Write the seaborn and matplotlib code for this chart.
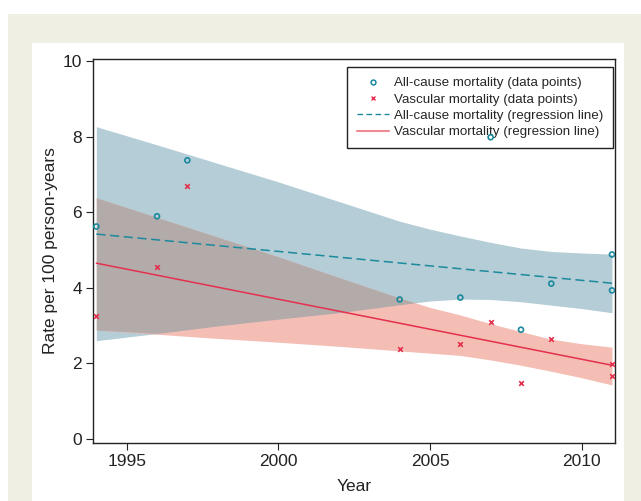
import matplotlib
matplotlib.use("Agg")
import matplotlib.pyplot as plt
from matplotlib.patches import Rectangle
from matplotlib.lines import Line2D
import numpy as np
import pandas as pd
import seaborn as sns

# ---- data ----
allcause_years = [1994, 1996, 1997, 2004, 2006, 2007, 2008, 2009, 2011, 2011]
allcause_rate = [5.62, 5.89, 7.37, 3.69, 3.74, 7.98, 2.89, 4.11, 4.88, 3.93]
vascular_years = [1994, 1996, 1997, 2004, 2006, 2007, 2008, 2009, 2011, 2011]
vascular_rate = [3.26, 4.54, 6.68, 2.39, 2.52, 3.10, 1.49, 2.65, 1.99, 1.67]

fit_years = [1994, 2011]
allcause_fit = [5.42, 4.12]
vascular_fit = [4.65, 1.95]

band_years = [1994, 1996, 1998, 2000, 2002, 2004, 2005, 2006, 2007, 2008, 2009, 2010, 2011]
allcause_upper = [8.26, 7.78, 7.29, 6.80, 6.28, 5.76, 5.55, 5.37, 5.20, 5.05, 4.96, 4.92, 4.89]
allcause_lower = [2.60, 2.79, 2.99, 3.17, 3.34, 3.55, 3.65, 3.70, 3.69, 3.63, 3.54, 3.45, 3.34]
vascular_upper = [6.38, 5.86, 5.34, 4.82, 4.27, 3.73, 3.48, 3.28, 3.05, 2.84, 2.64, 2.52, 2.43]
vascular_lower = [2.88, 2.77, 2.66, 2.56, 2.45, 2.33, 2.27, 2.21, 2.09, 1.95, 1.79, 1.62, 1.43]

x_ticks = [1995, 2000, 2005, 2010]
y_ticks = [0, 2, 4, 6, 8, 10]

# ---- style ----
sns.set_style("white")
plt.rcParams['font.family'] = ['Liberation Sans', 'DejaVu Sans']

TEAL = "#1b8a9c"
RED = "#e5304e"
BLUE_BAND = "#b4cdd6"
PINK_BAND = "#f4beb5"
OVERLAP = "#b3aaaa"
BEIGE = "#f0efe4"

W, H = 641, 501
fig = plt.figure(figsize=(W / 100, H / 100), dpi=100)
fig.patch.set_facecolor("white")
fig.patches.append(Rectangle((8 / W, 0), (W - 8) / W, (H - 14) / H,
                             transform=fig.transFigure, facecolor=BEIGE,
                             edgecolor="none", zorder=-10))
fig.patches.append(Rectangle((32 / W, 0), (624 - 32) / W, (H - 43) / H,
                             transform=fig.transFigure, facecolor="white",
                             edgecolor="none", zorder=-9))

ax = fig.add_axes([93 / W, (H - 443) / H, (615 - 93) / W, (443 - 59) / H])
ax.set_facecolor("white")

bx = np.array(band_years, dtype=float)
au, al = np.array(allcause_upper), np.array(allcause_lower)
vu, vl = np.array(vascular_upper), np.array(vascular_lower)
ax.fill_between(bx, al, au, color=BLUE_BAND, linewidth=0, zorder=1)
ax.fill_between(bx, vl, vu, color=PINK_BAND, linewidth=0, zorder=2)
ov_lo = np.maximum(al, vl)
ov_hi = np.minimum(au, vu)
ax.fill_between(bx, ov_lo, ov_hi, where=ov_hi > ov_lo, interpolate=True,
                color=OVERLAP, linewidth=0, zorder=3)

df_a = pd.DataFrame({"Year": allcause_years, "Rate": allcause_rate})
df_v = pd.DataFrame({"Year": vascular_years, "Rate": vascular_rate})
df_fa = pd.DataFrame({"Year": fit_years, "Rate": allcause_fit})
df_fv = pd.DataFrame({"Year": fit_years, "Rate": vascular_fit})

sns.lineplot(data=df_fa, x="Year", y="Rate", ax=ax, color=TEAL, linewidth=1.1,
             linestyle=(0, (6, 3)), zorder=5)
sns.lineplot(data=df_fv, x="Year", y="Rate", ax=ax, color=RED, linewidth=1.1,
             zorder=5)
sns.scatterplot(data=df_a, x="Year", y="Rate", ax=ax, marker="o", s=13,
                facecolors="none", edgecolor=TEAL, linewidth=1.2, zorder=8)
sns.scatterplot(data=df_v, x="Year", y="Rate", ax=ax, marker="x", s=11,
                color=RED, linewidth=1.2, zorder=8)

ax.set_xlim(1993.89, 2011.10)
ax.set_ylim(-0.106, 10.05)
ax.set_xticks(x_ticks)
ax.set_yticks(y_ticks)
ax.tick_params(axis="both", direction="out", length=5, width=0.8,
               color="#222222", labelsize=12.5, labelcolor="#222222", pad=3)
ax.tick_params(left=True, bottom=True)
for sp in ax.spines.values():
    sp.set_color("#222222")
    sp.set_linewidth(1.0)
ax.set_xlabel("Year", fontsize=12.5, color="#222222", labelpad=7)
ax.set_ylabel("Rate per 100 person-years", fontsize=12.5, color="#222222", labelpad=3)

handles = [
    Line2D([], [], marker="o", linestyle="none", markersize=3.5,
           markerfacecolor="none", markeredgecolor=TEAL, markeredgewidth=1.1),
    Line2D([], [], marker="x", linestyle="none", markersize=3,
           color=RED, markeredgewidth=1.0),
    Line2D([], [], color=TEAL, linewidth=1.0, linestyle=(0, (4, 2.5))),
    Line2D([], [], color="#ef8a95", linewidth=1.5),
]
labels = ["All-cause mortality (data points)",
          "Vascular mortality (data points)",
          "All-cause mortality (regression line)",
          "Vascular mortality (regression line)"]
leg = ax.legend(handles, labels, loc="upper right",
                bbox_to_anchor=((613 - 93) / 522, 1 - (67 - 59) / 384),
                fontsize=9.6, frameon=True, fancybox=False, edgecolor="#222222",
                framealpha=1, handlelength=2.4, handletextpad=0.35,
                labelspacing=0.3, borderpad=0.75, borderaxespad=0.0)
leg.get_frame().set_linewidth(1.0)
leg.set_zorder(6)

fig.savefig("out.png", dpi=100)
